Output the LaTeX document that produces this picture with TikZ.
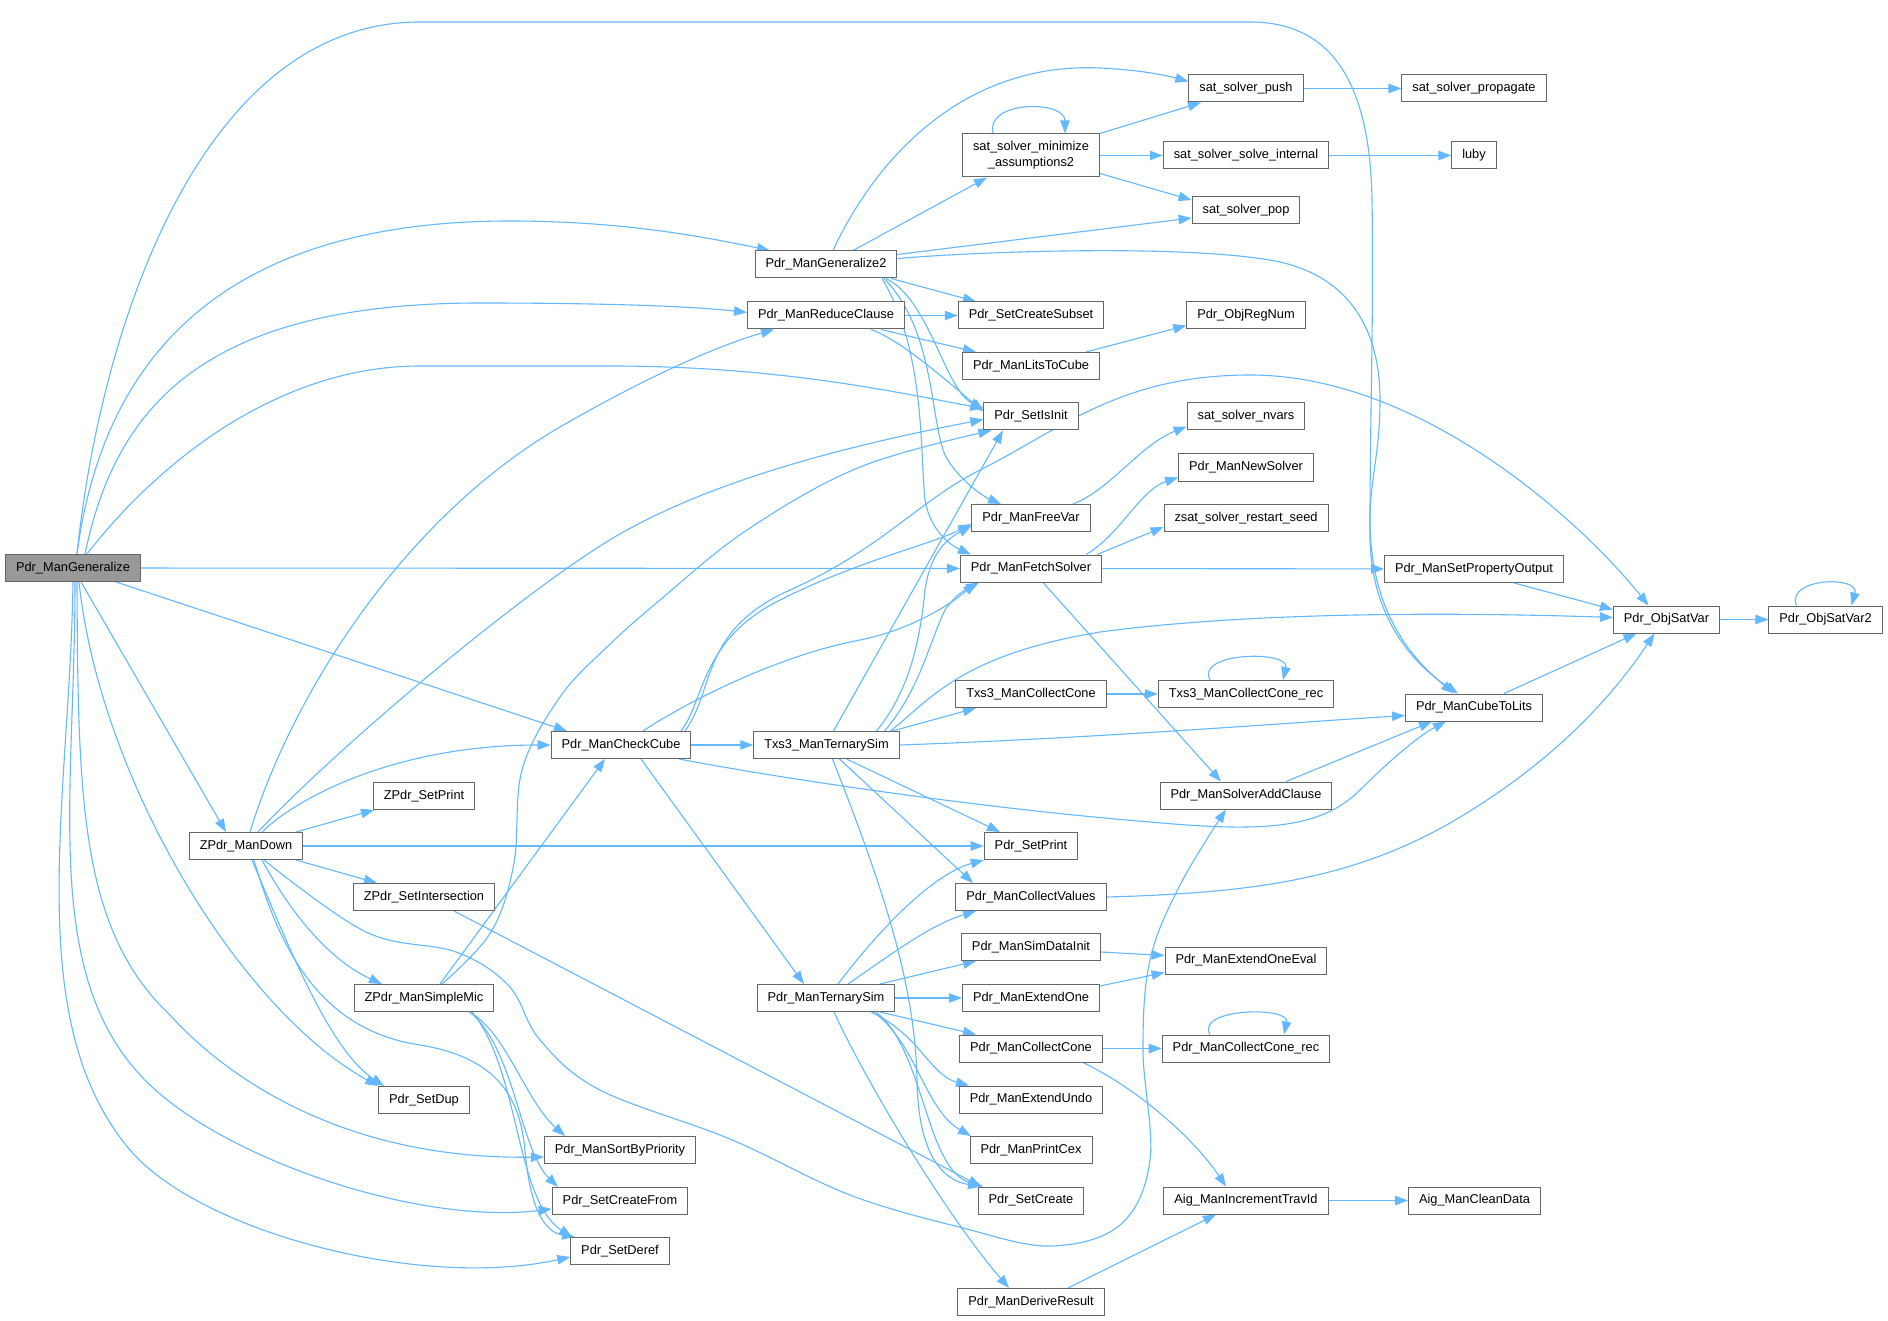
\documentclass[tikz,border=0pt]{standalone}
\usepackage{fontspec}
\setmainfont{Liberation Sans}
\usetikzlibrary{arrows.meta}
\pgfdeclarelayer{background}
\pgfsetlayers{background,main}
\definecolor{edgec}{HTML}{63B8FF}
\definecolor{nodeb}{HTML}{666666}
\definecolor{rootf}{HTML}{999999}
\begin{document}
\begin{tikzpicture}[x=1pt,y=-1pt,
  fn/.style={draw=nodeb, fill=white, line width=1.0pt, rectangle, inner xsep=10.5pt, inner ysep=0pt, minimum height=27pt, font=\fontsize{12.8pt}{16pt}\selectfont, text=black},
  rootbox/.style={fn, fill=rootf},
  conn/.style={draw=edgec, line width=1.1pt, -{Triangle[length=13pt,width=9.5pt]}},
]
\useasboundingbox (0,0) rectangle (1888,1321);
% nodes
\node[rootbox] (G) at (73,568) {Pdr\_ManGeneralize};
\node[fn] (D) at (246,846) {ZPdr\_ManDown};
\node[fn] (ZSP) at (424,796) {ZPdr\_SetPrint};
\node[fn] (ZSI) at (424,897) {ZPdr\_SetIntersection};
\node[fn] (ZSM) at (424,998) {ZPdr\_ManSimpleMic};
\node[fn] (SDup) at (424,1100) {Pdr\_SetDup};
\node[fn] (C) at (621,745) {Pdr\_ManCheckCube};
\node[fn] (SBP) at (620,1150) {Pdr\_ManSortByPriority};
\node[fn] (SCF) at (620,1201) {Pdr\_SetCreateFrom};
\node[fn] (SDf) at (620,1251) {Pdr\_SetDeref};
\node[fn] (G2) at (826,264.5) {Pdr\_ManGeneralize2};
\node[fn] (R) at (826,315.5) {Pdr\_ManReduceClause};
\node[fn] (T3) at (826.5,745) {Txs3\_ManTernarySim};
\node[fn] (PT) at (826,998) {Pdr\_ManTernarySim};
\node[fn, minimum height=43pt, align=center] (SM) at (1031,155.5) {sat\_solver\_minimize\\\_assumptions2};
\node[fn] (SCS) at (1031,315.5) {Pdr\_SetCreateSubset};
\node[fn] (L2C) at (1031,366) {Pdr\_ManLitsToCube};
\node[fn] (SII) at (1031,416.5) {Pdr\_SetIsInit};
\node[fn] (FV) at (1031,518) {Pdr\_ManFreeVar};
\node[fn] (F) at (1031,568.5) {Pdr\_ManFetchSolver};
\node[fn] (T3CC) at (1031,694) {Txs3\_ManCollectCone};
\node[fn] (SPr) at (1031,846) {Pdr\_SetPrint};
\node[fn] (CV) at (1031,897) {Pdr\_ManCollectValues};
\node[fn] (SDI) at (1031,947) {Pdr\_ManSimDataInit};
\node[fn] (EO) at (1031,998) {Pdr\_ManExtendOne};
\node[fn] (CC) at (1031,1048.5) {Pdr\_ManCollectCone};
\node[fn] (EU) at (1031,1099.5) {Pdr\_ManExtendUndo};
\node[fn] (PC) at (1031,1150) {Pdr\_ManPrintCex};
\node[fn] (SC) at (1031,1200.5) {Pdr\_SetCreate};
\node[fn] (DR) at (1031,1302) {Pdr\_ManDeriveResult};
\node[fn] (Push) at (1246,88.5) {sat\_solver\_push};
\node[fn] (SSI) at (1246,155.5) {sat\_solver\_solve\_internal};
\node[fn] (Pop) at (1246,210) {sat\_solver\_pop};
\node[fn] (ORN) at (1246,315.5) {Pdr\_ObjRegNum};
\node[fn] (NV) at (1246,416.5) {sat\_solver\_nvars};
\node[fn] (NS) at (1246,467.5) {Pdr\_ManNewSolver};
\node[fn] (ZRS) at (1246,518) {zsat\_solver\_restart\_seed};
\node[fn] (T3R) at (1246,694) {Txs3\_ManCollectCone\_rec};
\node[fn] (SAC) at (1246,795.5) {Pdr\_ManSolverAddClause};
\node[fn] (EOE) at (1246,960.5) {Pdr\_ManExtendOneEval};
\node[fn] (CCR) at (1246,1048.5) {Pdr\_ManCollectCone\_rec};
\node[fn] (AIT) at (1246,1200.5) {Aig\_ManIncrementTravId};
\node[fn] (Prop) at (1474,88.5) {sat\_solver\_propagate};
\node[fn] (Luby) at (1474,155.5) {luby};
\node[fn] (SPO) at (1474,569) {Pdr\_ManSetPropertyOutput};
\node[fn] (C2L) at (1474,707.5) {Pdr\_ManCubeToLits};
\node[fn] (ACD) at (1474.5,1200.5) {Aig\_ManCleanData};
\node[fn] (OSV) at (1666.5,619.5) {Pdr\_ObjSatVar};
\node[fn] (OSV2) at (1825.5,619.5) {Pdr\_ObjSatVar2};

\begin{pgfonlayer}{background}
\fill[white] (0,0) rectangle (1888,1321);
% from G
\draw[conn] ([xshift=4pt]G.north) .. controls (100,330) and (200,22) .. (420,22) -- (1250,22) .. controls (1330,22) and (1370,80) .. (1372,200) .. controls (1374,300) and (1370,420) .. (1370,520) .. controls (1370,620) and (1420,665) .. ([xshift=-20pt]C2L.north);
\draw[conn] ([xshift=4pt]G.north) .. controls (100,380) and (200,221) .. (510,221) .. controls (620,221) and (700,236) .. ([xshift=-56pt]G2.north);
\draw[conn] ([xshift=12pt]G.north) .. controls (115,410) and (200,303) .. (480,303) .. controls (600,303) and (690,306) .. ([yshift=3pt]R.west);
\draw[conn] ([xshift=14pt]G.north) .. controls (160,460) and (280,366) .. (420,366) -- (610,366) .. controls (780,366) and (900,393) .. ([yshift=8pt]SII.west);
\draw[conn] (G) -- (F);
\draw[conn] ([xshift=43pt]G.south) -- ([xshift=-54pt]C.north);
\draw[conn] ([xshift=8pt]G.south) -- ([xshift=-20pt]D.north);
\draw[conn] ([xshift=6pt]G.south) .. controls (100,780) and (240,1010) .. (SDup.north west);
\draw[conn] ([xshift=4pt]G.south) .. controls (78,800) and (80,930) .. (170,1015) .. controls (215,1065) and (330,1160) .. ([yshift=-7pt]SBP.west);
\draw[conn] ([xshift=2pt]G.south) .. controls (75,800) and (40,980) .. (150,1085) .. controls (230,1161) and (420,1225) .. ([yshift=-8pt]SCF.west);
\draw[conn] (G.south) .. controls (70,800) and (20,1020) .. (130,1150) .. controls (200,1232) and (420,1290) .. ([yshift=-6pt]SDf.west);
% from D
\draw[conn] ([xshift=4pt]D.north) .. controls (290,700) and (400,520) .. (560,427) .. controls (650,375) and (720,345) .. ([xshift=-52pt]R.south);
\draw[conn] ([xshift=12pt]D.north) .. controls (330,755) and (500,610) .. (600,546) .. controls (700,482) and (850,445) .. ([yshift=-3pt]SII.west);
\draw[conn] ([xshift=16pt]D.north) .. controls (300,795) and (400,745) .. (C.west);
\draw[conn] ([xshift=50pt]D.north) -- ([xshift=-50pt]ZSP.south);
\draw[conn] (D) -- (SPr);
\draw[conn] ([xshift=50pt]D.south) -- ([xshift=-47pt]ZSI.north);
\draw[conn] ([xshift=16pt]D.south) .. controls (300,930) and (340,965) .. ([xshift=-42pt]ZSM.north);
\draw[conn] ([xshift=6pt]D.south) .. controls (290,950) and (330,1050) .. ([xshift=-40pt]SDup.north);
\draw[conn] ([xshift=8pt]D.south) .. controls (280,950) and (320,1030) .. (420,1045) .. controls (500,1058) and (520,1100) .. (525,1150) .. controls (530,1210) and (545,1232) .. ([xshift=-45pt]SDf.north);
\draw[conn] plot[smooth, tension=0.6] coordinates {([xshift=18pt]D.south) (366,932) (456,952) (509,986) (540,1040) (600,1090) (730,1139) (850,1195) (963,1228) (1050,1246) (1120,1225) (1150,1160) (1143,1050) (1150,960) (1180,885) ([xshift=-20pt]SAC.south)};
% from ZSI
\draw[conn] ([xshift=30pt]ZSI.south) -- ([xshift=-50pt]SC.north);
% from ZSM
\draw[conn] ([xshift=16pt]ZSM.north) -- ([xshift=-16pt]C.south);
\draw[conn] plot[smooth, tension=0.6] coordinates {([xshift=18pt]ZSM.north) (491,932) (514,863) (522,770) (560,697) (607,647) (660,600) (747,530) (860,467) ([xshift=8pt]SII.south west)};
\draw[conn] ([xshift=45pt]ZSM.south) .. controls (505,1030) and (525,1100) .. ([xshift=-55pt]SBP.north);
\draw[conn] ([xshift=46pt]ZSM.south) .. controls (515,1050) and (520,1150) .. ([xshift=-62pt]SCF.north);
\draw[conn] ([xshift=48pt]ZSM.south) .. controls (520,1070) and (515,1200) .. ([xshift=-48pt]SDf.north);
% from G2
\draw[conn] ([xshift=7pt]G2.north) .. controls (880,150) and (970,62) .. (1100,68) .. controls (1140,70) and (1165,75) .. ([yshift=7pt]Push.west);
\draw[conn] ([xshift=27pt]G2.north) -- ([xshift=-44pt]SM.south);
\draw[conn] ([yshift=10pt]G2.east) -- ([yshift=-8pt]Pop.west);
\draw[conn] ([yshift=6pt]G2.east) .. controls (1000,250) and (1200,245) .. (1280,262) .. controls (1350,278) and (1380,330) .. (1380,400) .. controls (1380,460) and (1368,480) .. (1370,540) .. controls (1372,620) and (1415,665) .. ([xshift=-16pt]C2L.north);
\draw[conn] ([xshift=65pt]G2.south) -- ([xshift=-55pt]SCS.north);
\draw[conn] ([xshift=60pt]G2.south) .. controls (930,300) and (945,390) .. ([yshift=8pt]SII.west);
\draw[conn] ([xshift=58pt]G2.south) .. controls (935,330) and (930,420) .. (945,455) .. controls (955,475) and (980,495) .. ([xshift=-30pt]FV.north);
\draw[conn] ([xshift=56pt]G2.south) .. controls (925,350) and (920,450) .. (925,500) .. controls (930,530) and (950,545) .. ([xshift=-60pt]F.north);
% from R
\draw[conn] (R) -- (SCS);
\draw[conn] ([xshift=55pt]R.south) -- ([xshift=-55pt]L2C.north);
\draw[conn] ([xshift=45pt]R.south) .. controls (900,340) and (940,375) .. ([yshift=5pt]SII.west);
% from SM
\draw[conn] ([xshift=-38pt]SM.north) .. controls (985,100) and (1065,100) .. ([xshift=34pt]SM.north);
\draw[conn] (SM.north east) -- ([xshift=-45pt]Push.south);
\draw[conn] (SM) -- (SSI);
\draw[conn] ([yshift=4pt]SM.south east) -- ([yshift=10pt]Pop.west);
% misc right
\draw[conn] (Push) -- (Prop);
\draw[conn] (SSI) -- (Luby);
\draw[conn] ([xshift=55pt]L2C.north) -- ([yshift=-10pt]ORN.west);
\draw[conn] ([xshift=42pt]FV.north) .. controls (1110,490) and (1140,445) .. ([yshift=-10pt]NV.west);
\draw[conn] ([xshift=55pt]F.north) .. controls (1120,535) and (1140,490) .. ([yshift=-10pt]NS.west);
\draw[conn] ([xshift=66pt]F.north) -- ([yshift=-9pt]ZRS.west);
\draw[conn] (F) -- (SPO);
\draw[conn] ([xshift=12pt]F.south) -- ([xshift=-25pt]SAC.north);
\draw[conn] ([xshift=40pt]SPO.south) -- ([yshift=10pt]OSV.west);
\draw[conn] (OSV) -- (OSV2);
\draw[conn] ([xshift=-29pt]OSV2.north) .. controls (1785,578) and (1860,575) .. ([xshift=26pt]OSV2.north);
\draw[conn] ([xshift=30pt]C2L.north) -- ([xshift=-30pt]OSV.south);
\draw[conn] ([xshift=40pt]SAC.north) -- ([xshift=-42pt]C2L.south);
\draw[conn] (T3CC) -- (T3R);
\draw[conn] ([xshift=-36pt]T3R.north) .. controls (1195,652) and (1290,650) .. ([xshift=37pt]T3R.north);
% from C
\draw[conn] (C) -- (T3);
\draw[conn] ([xshift=22pt]C.north) .. controls (690,700) and (780,655) .. (860,640) .. controls (910,630) and (950,605) .. ([xshift=-55pt]F.south);
\draw[conn] ([xshift=60pt]C.north) .. controls (705,700) and (700,640) .. (780,600) .. controls (860,560) and (930,545) .. ([yshift=-6pt]FV.west);
\draw[conn] ([xshift=64pt]C.north) .. controls (715,690) and (700,630) .. (790,590) .. controls (880,550) and (920,500) .. (980,470) .. controls (1060,430) and (1120,375) .. (1250,375) .. controls (1420,375) and (1580,520) .. ([xshift=-18pt]OSV.north);
\draw[conn] ([xshift=58pt]C.south) .. controls (800,782) and (1000,810) .. (1150,822) .. controls (1260,832) and (1320,830) .. (1360,790) .. controls (1390,760) and (1420,735) .. ([xshift=-28pt]C2L.south);
\draw[conn] ([xshift=20pt]C.south) -- ([xshift=-22pt]PT.north);
% from T3
\draw[conn] ([xshift=7pt]T3.north) -- ([xshift=-28pt]SII.south);
\draw[conn] ([xshift=50pt]T3.north) .. controls (910,690) and (920,640) .. (925,590) .. controls (930,555) and (945,540) .. ([yshift=-8pt]FV.west);
\draw[conn] ([xshift=58pt]T3.north) .. controls (920,690) and (930,640) .. (945,610) .. controls (955,595) and (965,590) .. ([xshift=-52pt]F.south);
\draw[conn] ([xshift=64pt]T3.north) .. controls (930,700) and (960,655) .. (1100,632) .. controls (1250,612) and (1450,612) .. ([yshift=2pt]OSV.west);
\draw[conn] ([xshift=66pt]T3.north) -- ([xshift=-55pt]T3CC.south);
\draw[conn] (T3.east) .. controls (1100,738) and (1300,722) .. ([yshift=-8pt]C2L.west);
\draw[conn] ([xshift=20pt]T3.south) -- ([xshift=-31pt]SPr.north);
\draw[conn] ([xshift=13pt]T3.south) -- ([xshift=-58pt]CV.north);
\draw[conn] ([xshift=6pt]T3.south) .. controls (880,880) and (915,980) .. (917,1080) .. controls (918,1150) and (940,1180) .. ([xshift=-50pt]SC.north);
% from PT
\draw[conn] ([xshift=12pt]PT.north) .. controls (875,935) and (930,875) .. (SPr.south west);
\draw[conn] ([xshift=22pt]PT.north) .. controls (890,955) and (930,925) .. ([xshift=-55pt]CV.south);
\draw[conn] ([xshift=54pt]PT.north) -- ([xshift=-55pt]SDI.south);
\draw[conn] (PT) -- (EO);
\draw[conn] ([xshift=54pt]PT.south) -- ([xshift=-55pt]CC.north);
\draw[conn] ([xshift=45pt]PT.south) .. controls (920,1035) and (930,1075) .. ([xshift=-62pt]EU.north);
\draw[conn] ([xshift=47pt]PT.south) .. controls (915,1040) and (925,1110) .. ([xshift=-60pt]PC.north);
\draw[conn] ([xshift=50pt]PT.south) .. controls (925,1050) and (925,1170) .. ([xshift=-48pt]SC.north);
\draw[conn] ([xshift=8pt]PT.south) .. controls (870,1090) and (950,1220) .. ([xshift=-22pt]DR.north);
% rest
\draw[conn] ([yshift=-5pt]SDI.east) -- ([yshift=5pt]EOE.west);
\draw[conn] ([yshift=-2pt]EO.north east) -- ([yshift=2pt]EOE.south west);
\draw[conn] (CC) -- (CCR);
\draw[conn] ([xshift=52pt]CC.south) .. controls (1140,1090) and (1195,1140) .. ([xshift=-20pt]AIT.north);
\draw[conn] ([xshift=-36pt]CCR.north) .. controls (1195,1008) and (1290,1006) .. ([xshift=38pt]CCR.north);
\draw[conn] (AIT) -- (ACD);
\draw[conn] ([xshift=37pt]DR.north) -- ([xshift=-30pt]AIT.south);
\draw[conn] (CV.east) .. controls (1250,893) and (1350,880) .. (1450,823) .. controls (1550,765) and (1610,700) .. ([xshift=-12pt]OSV.south);
\end{pgfonlayer}
\end{tikzpicture}
\end{document}
